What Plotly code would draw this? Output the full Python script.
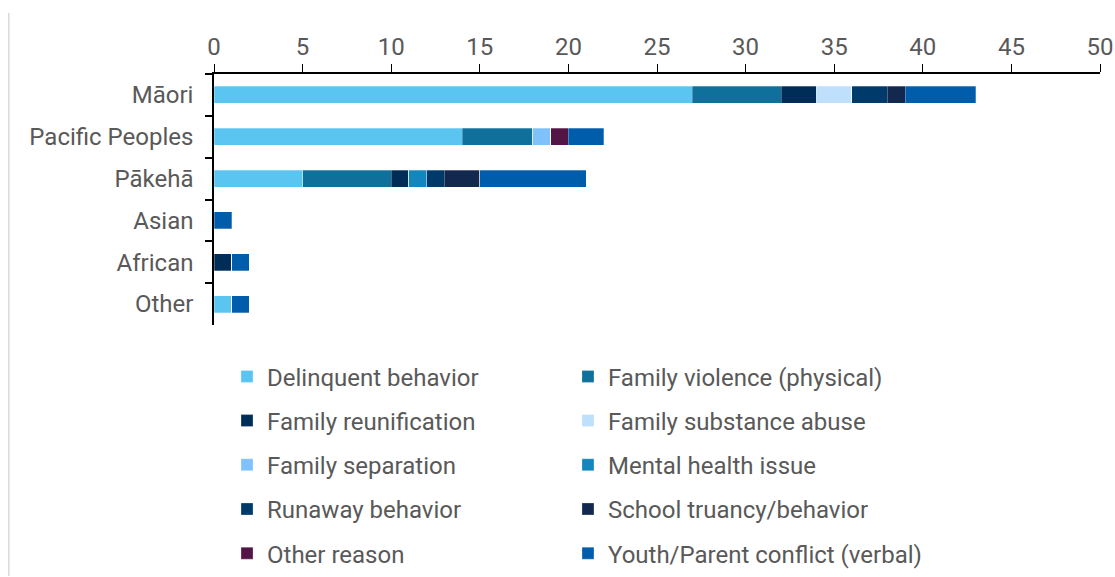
import plotly.graph_objects as go

# Ethnic groups (top to bottom)
groups = ["Māori", "Pacific Peoples", "Pākehā", "Asian", "African", "Other"]

# Counts by reason, one list per reason, aligned with `groups`
delinquent_behavior = [27, 14, 5, 0, 0, 1]
family_violence = [5, 4, 5, 0, 0, 0]
family_reunification = [2, 0, 1, 0, 1, 0]
family_substance_abuse = [2, 0, 0, 0, 0, 0]
family_separation = [0, 1, 0, 0, 0, 0]
mental_health_issue = [0, 0, 1, 0, 0, 0]
runaway_behavior = [2, 0, 1, 0, 0, 0]
school_truancy = [1, 0, 2, 0, 0, 0]
other_reason = [0, 1, 0, 0, 0, 0]
youth_parent_conflict = [4, 2, 6, 1, 1, 1]

x_ticks = [0, 5, 10, 15, 20, 25, 30, 35, 40, 45, 50]

# (name, values, colour, legend column)
series = [
    ("Delinquent behavior", delinquent_behavior, "#5BC5F2", "legend"),
    ("Family violence (physical)", family_violence, "#0F709C", "legend2"),
    ("Family reunification", family_reunification, "#002D57", "legend"),
    ("Family substance abuse", family_substance_abuse, "#BEE0FC", "legend2"),
    ("Family separation", family_separation, "#7FC2FB", "legend"),
    ("Mental health issue", mental_health_issue, "#1286BD", "legend2"),
    ("Runaway behavior", runaway_behavior, "#003A6A", "legend"),
    ("School truancy/behavior", school_truancy, "#12284F", "legend2"),
    ("Other reason", other_reason, "#521545", "legend"),
    ("Youth/Parent conflict (verbal)", youth_parent_conflict, "#005DAB", "legend2"),
]

FONT = "Roboto"
TEXT_GREY = "#595959"

fig = go.Figure()
for i, (name, vals, color, leg) in enumerate(series):
    fig.add_trace(go.Bar(
        y=groups,
        x=vals,
        name=name,
        orientation="h",
        marker=dict(color=color, line=dict(color="rgba(255,255,255,0.35)", width=0.8)),
        legend=leg,
        legendgroup=f"g{i}",
        hoverinfo="name+x",
    ))

legend_common = dict(
    orientation="v",
    font=dict(family=FONT, size=24, color=TEXT_GREY),
    bgcolor="rgba(0,0,0,0)",
    tracegroupgap=10,
    xref="container",
    yref="container",
    xanchor="left",
    yanchor="top",
    traceorder="grouped",
)

fig.update_layout(
    width=1115,
    height=577,
    barmode="stack",
    bargap=0.59,
    plot_bgcolor="white",
    paper_bgcolor="white",
    margin=dict(l=214, r=15, t=74, b=252, autoexpand=False),
    font=dict(family=FONT, size=24, color=TEXT_GREY),
    legend=dict(x=0.2036, y=0.386, **legend_common),
    legend2=dict(x=0.5094, y=0.386, **legend_common),
    xaxis=dict(
        side="top",
        range=[0, 50],
        tickvals=x_ticks,
        ticktext=[str(v) for v in x_ticks],
        ticks="outside",
        ticklen=8,
        tickwidth=1.2,
        tickcolor="black",
        showline=True,
        linecolor="black",
        linewidth=1.5,
        showgrid=False,
        zeroline=False,
        automargin=False,
        tickfont=dict(family=FONT, size=24, color=TEXT_GREY),
    ),
    yaxis=dict(
        autorange="reversed",
        ticks="outside",
        tickson="boundaries",
        ticklen=7,
        tickwidth=1.5,
        tickcolor="black",
        showline=True,
        linecolor="black",
        linewidth=1.5,
        showgrid=False,
        automargin=False,
        tickfont=dict(family=FONT, size=24, color=TEXT_GREY),
        ticklabelstandoff=14,
    ),
    shapes=[
        # thin grey rule down the left edge of the figure
        dict(type="line", xref="paper", yref="paper",
             x0=-0.2316, x1=-0.2316, y0=-1.0, y1=1.243,
             line=dict(color="#DADADA", width=1.5)),
    ],
)

fig.write_html("out.html")
